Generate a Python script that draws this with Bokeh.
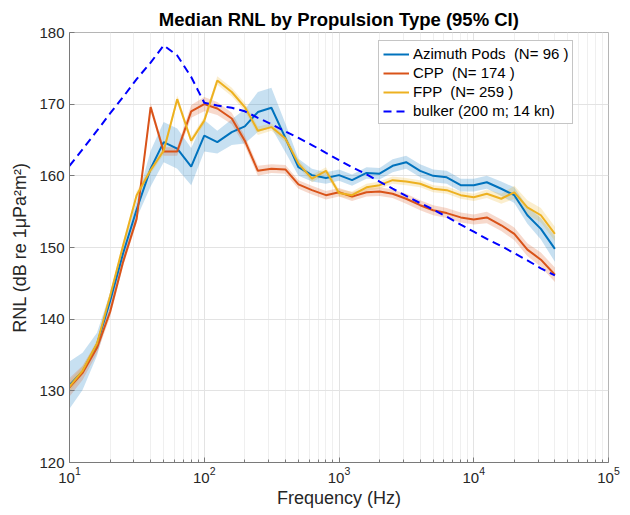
from bokeh.plotting import figure
from bokeh.models import FixedTicker, Range1d, Legend, LegendItem
from bokeh.embed import file_html
from bokeh.resources import INLINE

# One-third octave band centre frequencies (Hz)
freqs = [10, 12.5, 16, 20, 25, 31.5, 40, 50, 63, 80,
         100, 125, 160, 200, 250, 315, 400, 500, 630, 800,
         1000, 1250, 1600, 2000, 2500, 3150, 4000, 5000, 6300, 8000,
         10000, 12500, 16000, 20000, 25000, 31500, 40000]

# Median RNL per propulsion type (dB re 1 uPa^2 m^2)
azimuth_med = [130.8, 132.7, 136.5, 142.5, 149.2, 155.3, 161.0, 164.7, 163.8, 161.3,
               165.6, 164.7, 166.1, 166.9, 168.9, 169.5, 165.3, 161.2, 160.1, 159.7,
               160.1, 159.4, 160.4, 160.3, 161.4, 161.9, 160.7, 160.0, 159.8, 158.7,
               158.7, 159.1, 158.2, 157.3, 154.5, 152.6, 149.8]
cpp_med = [130.5, 132.5, 136.0, 141.0, 148.0, 154.0, 169.6, 163.4, 163.4, 169.0,
           170.0, 169.4, 168.0, 164.9, 160.7, 161.0, 160.9, 158.8, 158.0, 157.3,
           157.7, 157.1, 157.7, 157.8, 157.5, 156.8, 155.9, 155.2, 154.8, 154.2,
           153.9, 154.2, 153.1, 151.9, 149.7, 148.3, 146.2]
fpp_med = [130.6, 132.8, 136.6, 143.2, 150.3, 157.3, 160.8, 163.5, 170.7, 164.9,
           167.7, 173.3, 171.7, 169.6, 166.3, 166.8, 165.2, 161.7, 159.6, 160.7,
           157.6, 157.3, 158.4, 158.7, 159.4, 159.2, 158.9, 158.2, 158.0, 157.3,
           157.0, 157.5, 156.8, 157.7, 155.6, 154.5, 151.9]

# Half-width of the 95% confidence interval (dB)
azimuth_ci = [3.3, 2.6, 1.6, 1.2, 1.0, 1.2, 2.5, 2.8, 2.8, 2.6,
              2.2, 1.6, 1.8, 2.4, 2.8, 2.8, 2.0, 1.2, 0.9, 0.8,
              0.8, 0.8, 0.8, 0.8, 0.9, 0.9, 0.9, 0.9, 0.9, 0.9,
              0.9, 0.9, 1.0, 1.1, 1.2, 1.5, 1.8]
cpp_ci = [1.3, 1.0, 0.8, 0.7, 0.6, 0.6, 0.6, 0.6, 0.6, 0.9,
          1.0, 0.9, 0.8, 0.7, 0.7, 0.6, 0.6, 0.6, 0.6, 0.6,
          0.6, 0.6, 0.6, 0.6, 0.6, 0.7, 0.7, 0.7, 0.7, 0.7,
          0.7, 0.8, 0.8, 0.9, 0.9, 1.0, 1.0]
fpp_ci = [0.8, 0.6, 0.5, 0.5, 0.5, 0.5, 0.5, 0.5, 0.5, 0.5,
          0.5, 0.6, 0.6, 0.6, 0.6, 0.5, 0.5, 0.5, 0.5, 0.5,
          0.5, 0.5, 0.5, 0.5, 0.5, 0.5, 0.5, 0.5, 0.5, 0.5,
          0.5, 0.6, 0.7, 0.9, 1.0, 1.0, 1.0]

# Reference bulk carrier source level curve (200 m; 14 kn)
bulker = [161.4, 163.7, 166.3, 168.7, 171.0, 173.5, 175.8, 178.2, 176.8, 173.8,
          170.2, 169.8, 169.5, 169.0, 168.1, 167.2, 166.2, 165.3, 164.3, 163.2,
          162.2, 161.2, 160.2, 159.2, 158.2, 157.2, 156.2, 155.3, 154.3, 153.2,
          152.2, 151.2, 150.2, 149.2, 148.2, 147.1, 146.1]

series_labels = ["Azimuth Pods  (N= 96 )", "CPP  (N= 174 )", "FPP  (N= 259 )"]
bulker_label = "bulker (200 m; 14 kn)"
colors = ["#0072BD", "#D95319", "#EDB120"]

x_major = [10, 100, 1000, 10000, 100000]
x_minor = [m * d for d in [10, 100, 1000, 10000] for m in range(2, 10)]
y_major = [120, 130, 140, 150, 160, 170, 180]

FONT = "Liberation Sans"

p = figure(width=630, height=515, x_axis_type="log",
           x_range=Range1d(10, 100000), y_range=Range1d(120, 180),
           output_backend="svg", toolbar_location=None,
           min_border_left=69, min_border_right=22,
           min_border_top=32, min_border_bottom=53)

p.title.text = "Median RNL by Propulsion Type (95% CI)"
p.title.align = "center"
p.title.text_font = FONT
p.title.text_font_size = "18.5px"
p.title.text_font_style = "bold"
p.title.text_color = "#000000"
p.title.standoff = 5

p.xaxis.ticker = FixedTicker(ticks=x_major, minor_ticks=x_minor)
p.yaxis.ticker = FixedTicker(ticks=y_major, minor_ticks=[])

for ax in (p.xaxis[0], p.yaxis[0]):
    ax.axis_line_color = "#7a7a7a"
    ax.major_tick_line_color = "#7a7a7a"
    ax.minor_tick_line_color = "#7a7a7a"
    ax.major_tick_in = 5
    ax.major_tick_out = 0
    ax.minor_tick_in = 3
    ax.minor_tick_out = 0
    ax.major_label_text_font = FONT
    ax.major_label_text_font_size = "15px"
    ax.major_label_text_color = "#262626"
    ax.axis_label_text_font = FONT
    ax.axis_label_text_font_size = "18px"
    ax.axis_label_text_font_style = "normal"
    ax.axis_label_text_color = "#262626"

p.xaxis.axis_label = "Frequency (Hz)"
p.yaxis.axis_label = "RNL (dB re 1μPa²m²)"
p.xaxis.major_label_standoff = 4
p.yaxis.major_label_standoff = 5
p.xaxis.axis_label_standoff = 2
p.yaxis.axis_label_standoff = 6

p.xgrid.grid_line_color = "#e3e3e3"
p.xgrid.minor_grid_line_color = "#efefef"
p.ygrid.grid_line_color = "#e3e3e3"
p.outline_line_color = "#b5b5b5"
p.background_fill_color = "white"
p.border_fill_color = "white"

meds = [azimuth_med, cpp_med, fpp_med]
cis = [azimuth_ci, cpp_ci, fpp_ci]

# Confidence bands underneath the medians
for med, ci, c in zip(meds, cis, colors):
    lo = [m - h for m, h in zip(med, ci)]
    hi = [m + h for m, h in zip(med, ci)]
    p.varea(x=freqs, y1=lo, y2=hi, fill_color=c, fill_alpha=0.22)

items = []
for med, c, lab in zip(meds, colors, series_labels):
    r = p.line(freqs, med, line_color=c, line_width=2)
    items.append(LegendItem(label=lab, renderers=[r]))

rb = p.line(freqs, bulker, line_color="#0000FF", line_width=2, line_dash="8 5")
items.append(LegendItem(label=bulker_label, renderers=[rb]))

legend = Legend(items=items, location=(309, 338))
legend.label_text_font = FONT
legend.label_text_font_size = "15px"
legend.label_text_color = "#000000"
legend.label_height = 16
legend.glyph_height = 16
legend.glyph_width = 26
legend.label_standoff = 4
legend.spacing = 2
legend.padding = 4
legend.margin = 0
legend.border_line_color = "#8c8c8c"
legend.border_line_width = 1
legend.background_fill_alpha = 1.0
p.add_layout(legend)

open("out.html", "w").write(file_html(p, INLINE))
